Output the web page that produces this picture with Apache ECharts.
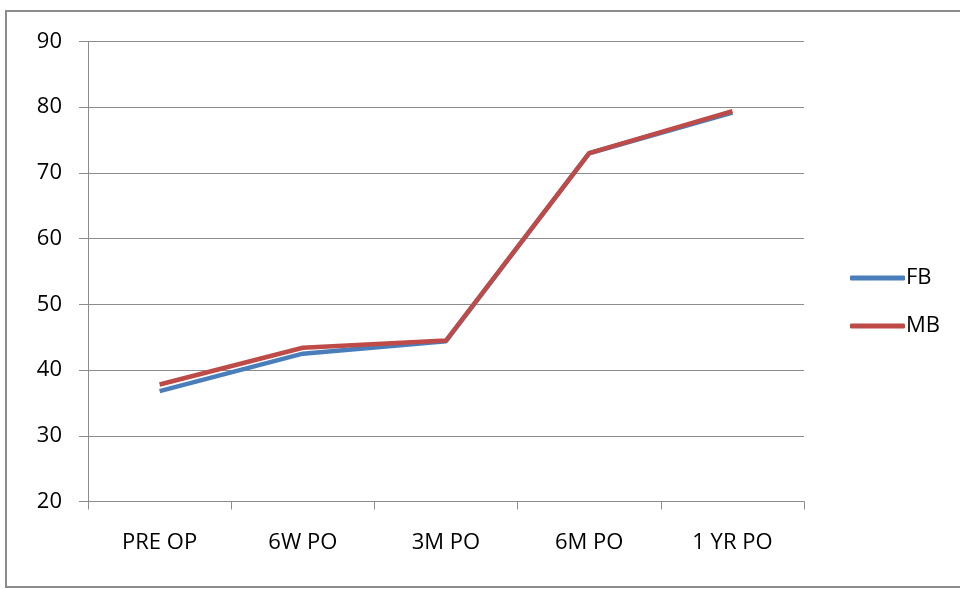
<!DOCTYPE html>
<html>
<head>
<meta charset="utf-8">
<script src="https://cdn.jsdelivr.net/npm/echarts@6/dist/echarts.min.js"></script>
<style>
html,body{margin:0;padding:0;background:#fff;}
#frame{position:absolute;left:5px;top:10px;width:980px;height:574px;border:2px solid #8c8c8c;}
#chart{position:absolute;left:0;top:0;width:960px;height:589px;}
</style>
</head>
<body>
<div id="frame"></div>
<div id="chart"></div>
<script>
const categories = ['PRE OP', '6W PO', '3M PO', '6M PO', '1 YR PO'];
const fbValues = [36.8, 42.5, 44.4, 73.0, 79.2];
const mbValues = [37.8, 43.4, 44.5, 73.0, 79.4];
const yTicks = { min: 20, max: 90, interval: 10 };

const font = '"Open Sans", "Noto Sans", sans-serif';
const chart = echarts.init(document.getElementById('chart'), null, { renderer: 'canvas' });
chart.setOption({
  backgroundColor: 'transparent',
  animation: false,
  grid: { left: 88, right: 156, top: 41.5, bottom: 87.5, containLabel: false },
  legend: {
    orient: 'vertical',
    left: 845,
    top: 262,
    itemWidth: 55,
    itemHeight: 5,
    itemGap: 26,
    icon: 'roundRect',
    textStyle: { fontFamily: font, fontSize: 22, color: '#000', padding: [0, 0, 0, -4] },
    data: ['FB', 'MB']
  },
  xAxis: {
    type: 'category',
    data: categories,
    boundaryGap: true,
    axisLine: { lineStyle: { color: '#8c8c8c', width: 1 } },
    axisTick: { show: true, length: 8, lineStyle: { color: '#8c8c8c' } },
    axisLabel: { margin: 30, fontFamily: font, fontSize: 22, color: '#000' }
  },
  yAxis: {
    type: 'value',
    min: yTicks.min,
    max: yTicks.max,
    interval: yTicks.interval,
    axisLine: { show: true, lineStyle: { color: '#8c8c8c', width: 1 } },
    axisTick: { show: true, length: 9, lineStyle: { color: '#8c8c8c' } },
    axisLabel: { margin: 26, fontFamily: font, fontSize: 22, color: '#000' },
    splitLine: { show: true, lineStyle: { color: '#8c8c8c', width: 1 } }
  },
  series: [
    { name: 'FB', type: 'line', data: fbValues, symbol: 'none', color: '#4a7ebb',
      lineStyle: { width: 4.5, color: '#4a7ebb' } },
    { name: 'MB', type: 'line', data: mbValues, symbol: 'none', color: '#be4b48',
      lineStyle: { width: 4.5, color: '#be4b48' } }
  ]
});
</script>
</body>
</html>
